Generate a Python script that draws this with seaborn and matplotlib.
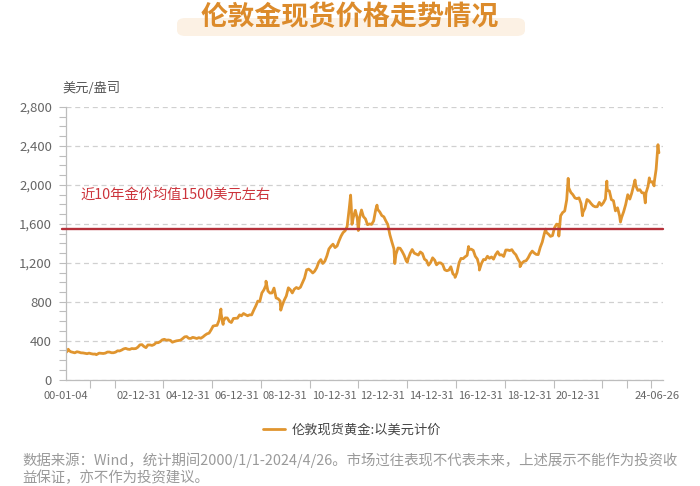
import numpy as np
import pandas as pd
import matplotlib
matplotlib.use("Agg")
import matplotlib.pyplot as plt
import matplotlib.dates as mdates
from matplotlib.ticker import MultipleLocator, FuncFormatter, FixedLocator
from matplotlib.patches import FancyBboxPatch
from matplotlib.lines import Line2D
import seaborn as sns

# ---------------- data ----------------
title = "伦敦金现货价格走势情况"
y_unit = "美元/盎司"
series_name = "伦敦现货黄金:以美元计价"
avg_label = "近10年金价均值1500美元左右"
footnote = ("数据来源：Wind，统计期间2000/1/1-2024/4/26。市场过往表现不代表未来，上述展示不能作为投资收\n"
            "益保证，亦不作为投资建议。")

monthly_start = "2000-01-01"   # monthly readings, Jan 2000 .. Apr 2024
gold_monthly = [
    284, 301, 286, 280, 275, 286, 282, 275, 274, 270, 266, 272,               # 2000
    266, 262, 263, 261, 272, 270, 268, 272, 283, 283, 276, 276,               # 2001
    282, 296, 294, 303, 315, 321, 313, 310, 319, 317, 319, 333,               # 2002
    357, 359, 341, 328, 356, 356, 351, 360, 379, 379, 390, 408,               # 2003
    414, 405, 407, 403, 384, 392, 398, 401, 405, 421, 439, 442,               # 2004
    424, 423, 434, 429, 422, 431, 425, 438, 456, 470, 477, 510,               # 2005
    550, 555, 557, 611, 675, 596, 634, 633, 598, 586, 628, 630,               # 2006
    631, 665, 655, 679, 667, 656, 665, 665, 713, 755, 806, 803,               # 2007
    890, 922, 968, 910, 889, 890, 940, 839, 830, 807, 761, 816,               # 2008
    859, 943, 924, 890, 929, 946, 934, 949, 997, 1043, 1127, 1135,            # 2009
    1118, 1095, 1113, 1149, 1205, 1233, 1193, 1216, 1271, 1342, 1370, 1391,   # 2010
    1356, 1373, 1424, 1474, 1510, 1529, 1573, 1756, 1772, 1665, 1739, 1652,   # 2011
    1656, 1742, 1674, 1650, 1591, 1599, 1594, 1630, 1745, 1747, 1722, 1685,   # 2012
    1672, 1628, 1593, 1488, 1414, 1343, 1286, 1352, 1349, 1317, 1276, 1222,   # 2013
    1244, 1300, 1336, 1299, 1289, 1279, 1311, 1295, 1237, 1223, 1175, 1201,   # 2014
    1251, 1227, 1179, 1199, 1199, 1182, 1128, 1118, 1125, 1159, 1086, 1068,   # 2015
    1098, 1200, 1245, 1242, 1261, 1276, 1337, 1340, 1327, 1267, 1238, 1157,   # 2016
    1192, 1234, 1231, 1267, 1246, 1260, 1237, 1283, 1314, 1280, 1282, 1265,   # 2017
    1331, 1331, 1325, 1335, 1304, 1282, 1238, 1202, 1198, 1215, 1221, 1250,   # 2018
    1292, 1320, 1301, 1286, 1284, 1359, 1413, 1500, 1511, 1495, 1471, 1479,   # 2019
    1561, 1597, 1592, 1683, 1716, 1732, 1847, 1969, 1922, 1900, 1866, 1858,   # 2020
    1867, 1808, 1718, 1760, 1850, 1835, 1808, 1785, 1775, 1776, 1820, 1790,   # 2021
    1816, 1856, 1948, 1937, 1849, 1837, 1733, 1765, 1681, 1665, 1725, 1798,   # 2022
    1899, 1854, 1913, 2000, 1992, 1943, 1951, 1919, 1917, 1917, 1985, 2030,   # 2023
    2033, 2023, 2160, 2383,                                                   # 2024
]

# daily extremes
spike_dates = ["2000-01-04", "2000-02-07", "2001-04-02", "2006-05-12", "2006-06-14",
               "2008-03-17", "2008-10-24", "2011-09-05", "2011-09-26", "2011-12-29",
               "2012-10-04", "2013-06-28", "2013-12-31", "2015-12-17", "2016-07-06",
               "2016-12-15", "2018-08-16", "2019-09-04", "2020-03-19", "2020-08-06",
               "2021-03-08", "2022-03-08", "2022-09-28", "2023-05-04", "2023-10-05",
               "2023-12-04", "2024-02-14", "2024-04-12", "2024-04-26"]
spike_prices = [282, 312, 256, 725, 567,
                1011, 713, 1895, 1595, 1531,
                1792, 1192, 1205, 1050, 1367,
                1125, 1160, 1546, 1474, 2067,
                1683, 2039, 1618, 2050, 1815,
                2072, 1990, 2413, 2330]

avg_level = 1550

y_ticks = [0, 400, 800, 1200, 1600, 2000, 2400, 2800]
x_label_dates = ["2000-01-04", "2002-12-31", "2004-12-31", "2006-12-31", "2008-12-31",
                 "2010-12-31", "2012-12-31", "2014-12-31", "2016-12-31", "2018-12-31",
                 "2020-12-31", "2024-03-23"]
x_labels = ["00-01-04", "02-12-31", "04-12-31", "06-12-31", "08-12-31",
            "10-12-31", "12-12-31", "14-12-31", "16-12-31", "18-12-31",
            "20-12-31", "24-06-26"]
x_minor_dates = ["2000-01-04"] + [f"{y}-12-31" for y in range(2000, 2024)]
x_range = ["2000-01-04", "2024-06-26"]

# ---------------- build frame ----------------
m_dates = pd.date_range(monthly_start, periods=len(gold_monthly), freq="MS") + pd.Timedelta(days=14)
df = pd.concat([
    pd.DataFrame({"date": m_dates, "price": gold_monthly}),
    pd.DataFrame({"date": pd.to_datetime(spike_dates), "price": spike_prices}),
]).sort_values("date").reset_index(drop=True)
df["series"] = series_name

# ---------------- style ----------------
sns.set_theme(style="white")
plt.rcParams["font.family"] = ["Noto Sans CJK SC", "DejaVu Sans"]
plt.rcParams["axes.unicode_minus"] = False

GOLD = "#E0952F"
RED_LINE = "#B5303A"
RED_TEXT = "#CC343C"
AX_GRAY = "#BDBDBD"

fig = plt.figure(figsize=(7.0, 4.86), dpi=100)
ax = fig.add_axes([66 / 700, 1 - 379.6 / 486, 597 / 700, (379.6 - 107) / 486])

sns.lineplot(data=df, x="date", y="price", color=GOLD, linewidth=2.0, ax=ax,
             label=series_name, estimator=None, sort=False)
ax.legend_.remove()

ax.axhline(avg_level, xmin=-0.007, xmax=1.0, color=RED_LINE, lw=1.7, clip_on=False, zorder=3)

ax.set_ylim(0, 2800)
ax.set_xlim(pd.Timestamp(x_range[0]), pd.Timestamp(x_range[1]))

ax.set_yticks(y_ticks)
ax.yaxis.set_major_formatter(FuncFormatter(lambda v, p: f"{int(v):,}"))
ax.yaxis.set_minor_locator(MultipleLocator(100))
ax.tick_params(axis="y", which="both", direction="out", length=5, width=0.8,
               color=AX_GRAY, labelsize=9.5, labelcolor="#666666", pad=5, left=True)

ax.xaxis.set_major_locator(FixedLocator(mdates.date2num(pd.to_datetime(x_label_dates))))
ax.set_xticklabels(x_labels)
ax.xaxis.set_minor_locator(FixedLocator(mdates.date2num(pd.to_datetime(x_minor_dates))))
ax.tick_params(axis="x", which="major", length=0, pad=8, labelsize=8, labelcolor="#666666")
ax.tick_params(axis="x", which="minor", length=6, width=0.8, color=AX_GRAY, bottom=True)

ax.yaxis.grid(True, linestyle=(0, (4, 3)), color="#D0D0D0", lw=0.9)
ax.xaxis.grid(False)
for s in ["top", "right"]:
    ax.spines[s].set_visible(False)
for s in ["left", "bottom"]:
    ax.spines[s].set_color(AX_GRAY)
    ax.spines[s].set_linewidth(0.9)
ax.set_xlabel("")
ax.set_ylabel("")

# unit label
fig.text(62 / 700, 1 - 88 / 486, y_unit, ha="left", va="center", fontsize=9.5, color="#555555")

# average annotation
fig.text(80 / 700, 1 - 195 / 486, avg_label, ha="left", va="center", fontsize=10.3, color=RED_TEXT)

# title with band
band = FancyBboxPatch((177 / 700, 1 - 36 / 486), (525 - 177) / 700, 18 / 486,
                      boxstyle="round,pad=0,rounding_size=0.012",
                      transform=fig.transFigure, facecolor="#FCF1E4", edgecolor="none", zorder=0)
fig.add_artist(band)
fig.text(0.5, 1 - 17 / 486, title, ha="center", va="center", fontsize=19.5,
         fontweight="bold", color="#DC8B2B", zorder=2)

# legend
handle = Line2D([], [], color=GOLD, lw=2.0)
fig.legend([handle], [series_name], loc="center", bbox_to_anchor=(352 / 700, 1 - 430 / 486),
           frameon=False, fontsize=9.5, handlelength=1.7, handletextpad=0.5, labelcolor="#444444")

# footnote
fig.text(22 / 700, 1 - 469 / 486, footnote, ha="left", va="center", fontsize=10.4,
         color="#9A9A9A", linespacing=1.25)

fig.savefig("out.png", dpi=100)
